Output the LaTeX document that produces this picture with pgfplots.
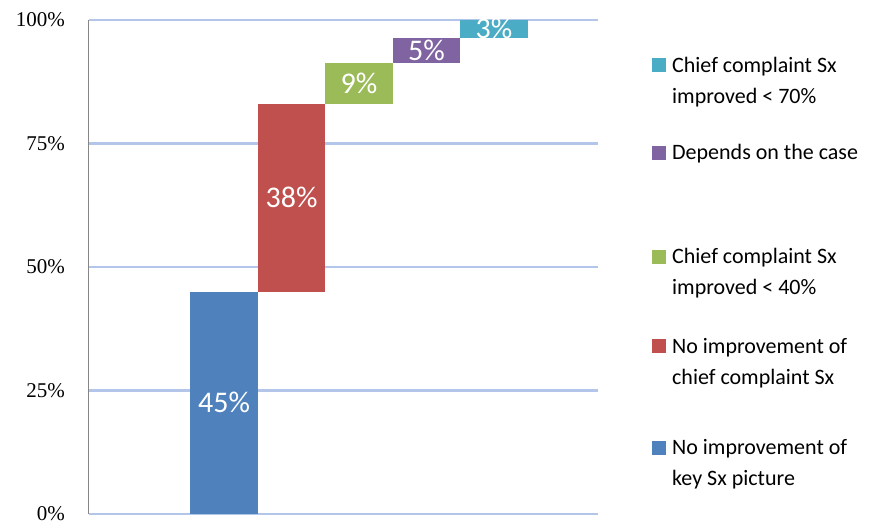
\documentclass[border=0pt]{standalone}
\usepackage{pgfplots}
\pgfplotsset{compat=1.18}
\usepackage{fontspec}
\setmainfont{Liberation Serif}
\newfontfamily\calfont{Carlito}
\definecolor{cblue}{HTML}{4F81BD}
\definecolor{cred}{HTML}{C0504D}
\definecolor{cgreen}{HTML}{9BBB59}
\definecolor{cpurple}{HTML}{8064A2}
\definecolor{ccyan}{HTML}{4BACC6}
\definecolor{gridblue}{HTML}{B3C6E9}
\definecolor{axgray}{HTML}{868686}
\newcommand\lent[2]{\begin{tabular}[t]{@{}l@{}}#1\rule[-#2]{0pt}{0pt}\end{tabular}}
\begin{document}
\begin{tikzpicture}
\useasboundingbox (-89bp,-10bp) rectangle (799bp,514bp);
\begin{axis}[
  scale only axis,
  width=509bp, height=494bp,
  xmin=-2, xmax=5.54,
  ymin=0, ymax=100,
  axis x line=none,
  axis y line*=left,
  y axis line style={draw=axgray, line width=1bp},
  ytick={0,25,50,75,100},
  yticklabels={0\%,25\%,50\%,75\%,100\%},
  yticklabel style={font=\fontsize{21bp}{23bp}\selectfont, anchor=east, inner sep=0pt, xshift=-24bp},
  major tick length=0pt,
  ymajorgrids,
  major grid style={draw=gridblue, line width=2.5bp},
  reverse legend,
  legend style={draw=none, fill=none, at={(1.106,0.9387)}, anchor=north west,
    inner sep=0pt, row sep=0pt, column sep=6bp,
    nodes={inner sep=0pt, text depth=},
    cells={anchor=base west},
    font=\calfont\fontsize{22bp}{31bp}\selectfont},
  legend image code/.code={\fill[#1] (0bp,0bp) rectangle (14bp,14bp);},
]
\addplot[fill=cblue, draw=none] coordinates {(-0.5,0) (0.5,0) (0.5,45) (-0.5,45)} -- cycle;
\addlegendentry{\lent{No improvement of\\key Sx picture}{0bp}}
\addplot[fill=cred, draw=none] coordinates {(0.5,45) (1.5,45) (1.5,83) (0.5,83)} -- cycle;
\addlegendentry{\lent{No improvement of\\chief complaint Sx}{49bp}}
\addplot[fill=cgreen, draw=none] coordinates {(1.5,83) (2.5,83) (2.5,91.2) (1.5,91.2)} -- cycle;
\addlegendentry{\lent{Chief complaint Sx\\improved < 40\%}{37bp}}
\addplot[fill=cpurple, draw=none] coordinates {(2.5,91.2) (3.5,91.2) (3.5,96.4) (2.5,96.4)} -- cycle;
\addlegendentry{\lent{Depends on the case}{82bp}}
\addplot[fill=ccyan, draw=none] coordinates {(3.5,96.4) (4.5,96.4) (4.5,100) (3.5,100)} -- cycle;
\addlegendentry{\lent{Chief complaint Sx\\improved < 70\%}{35bp}}
\addplot[forget plot, draw=none, mark=none, nodes near coords, point meta=explicit symbolic,
  every node near coord/.append style={anchor=center, text=white, inner sep=0pt,
    font=\calfont\fontsize{30bp}{32bp}\selectfont}]
  table[meta=lab] {
x y lab
0 22.5 45\%
1 64 38\%
2 87.1 9\%
3 93.8 5\%
4 98.2 3\%
};
\end{axis}
\end{tikzpicture}
\end{document}
